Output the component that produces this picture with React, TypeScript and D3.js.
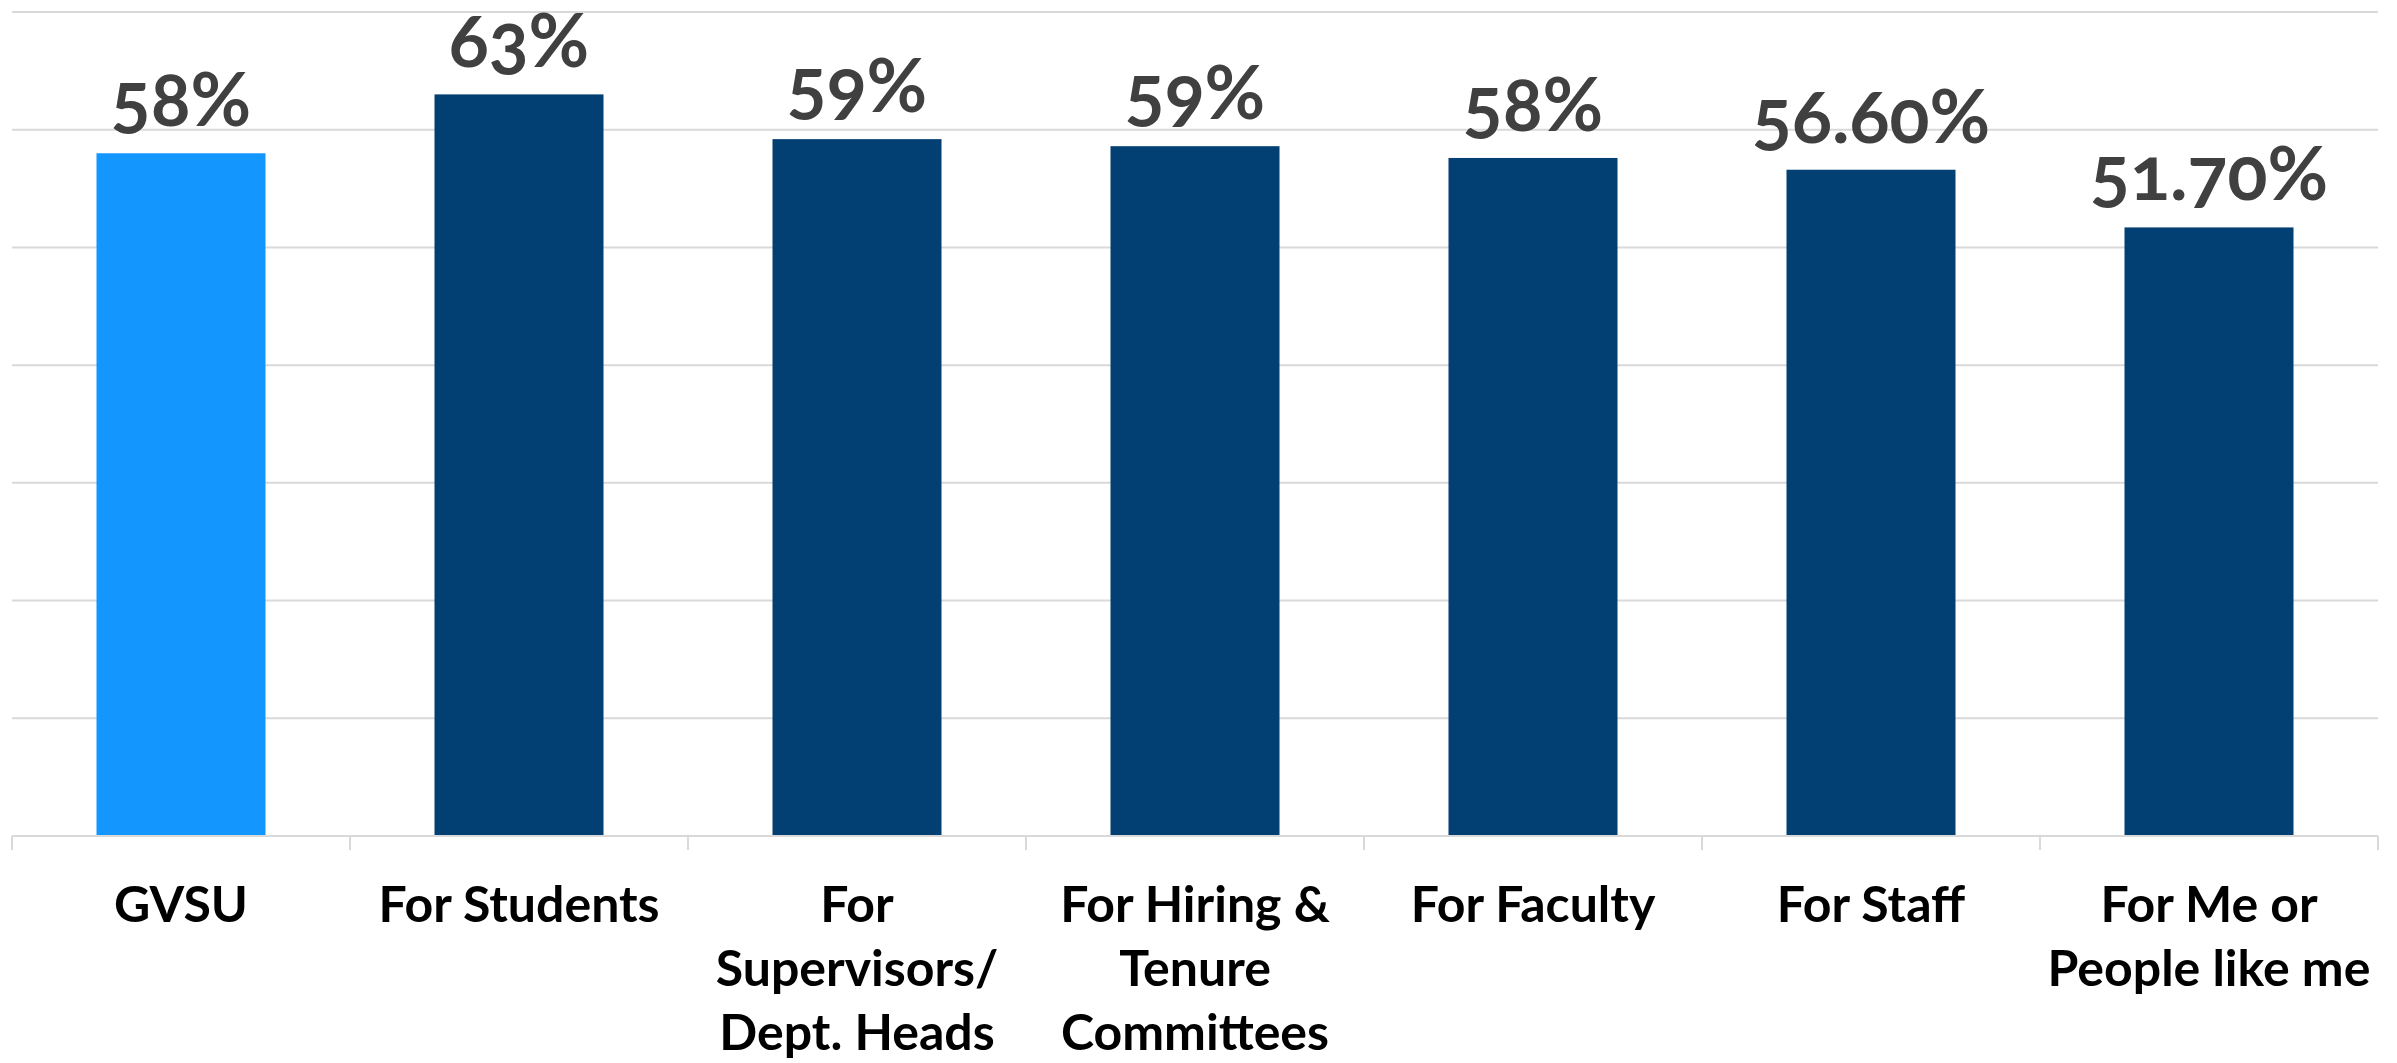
import React, { useEffect } from "react";
import * as d3 from "d3";

const categories: string[][] = [
  ["GVSU"],
  ["For Students"],
  ["For", "Supervisors/", "Dept. Heads"],
  ["For Hiring &", "Tenure", "Committees"],
  ["For Faculty"],
  ["For Staff"],
  ["For Me or", "People like me"],
];
const values: number[] = [58, 63, 59.2, 58.6, 57.6, 56.6, 51.7];
const valueLabels: string[] = ["58%", "63%", "59%", "59%", "58%", "56.60%", "51.70%"];
const gridTicks: number[] = [0, 10, 20, 30, 40, 50, 60, 70];

const W = 2397;
const H = 1063;
const left = 12;
const right = 2378;
const top = 12;
const bottom = 836;

export default function App() {
  useEffect(() => {
    document.body.style.margin = "0";
  }, []);

  const x = d3
    .scaleBand<number>()
    .domain(d3.range(categories.length))
    .range([left, right])
    .paddingInner(0.5)
    .paddingOuter(0.25);
  const y = d3.scaleLinear().domain([0, 70]).range([bottom, top]);
  const step = x.step();

  return (
    <svg width={W} height={H} style={{ display: "block" }}>
      <rect width={W} height={H} fill="#ffffff" />
      {gridTicks.slice(1).map((t) => (
        <line key={t} x1={left} x2={right} y1={y(t)} y2={y(t)} stroke="#D9D9D9" strokeWidth={2} />
      ))}
      {values.map((v, i) => (
        <rect
          key={i}
          x={x(i)}
          y={y(v)}
          width={x.bandwidth()}
          height={y(0) - y(v)}
          fill={i === 0 ? "#1496FF" : "#023F73"}
        />
      ))}
      <line x1={left} x2={right} y1={y(0)} y2={y(0)} stroke="#D9D9D9" strokeWidth={2} />
      {d3.range(categories.length + 1).map((i) => (
        <line
          key={i}
          x1={left + i * step}
          x2={left + i * step}
          y1={y(0)}
          y2={y(0) + 14}
          stroke="#D9D9D9"
          strokeWidth={2}
        />
      ))}
      {values.map((v, i) => (
        <text
          key={i}
          x={(x(i) as number) + x.bandwidth() / 2}
          y={y(v) - 27}
          textAnchor="middle"
          fontFamily="Lato, 'Open Sans', sans-serif"
          fontWeight={700}
          fontSize={74}
          fill="#404040"
          style={{ fontVariantNumeric: "oldstyle-nums" }}
        >
          {valueLabels[i]}
        </text>
      ))}
      {categories.map((lines, i) => (
        <text
          key={i}
          x={(x(i) as number) + x.bandwidth() / 2}
          y={922}
          textAnchor="middle"
          fontFamily="Lato, 'Open Sans', sans-serif"
          fontWeight={700}
          fontSize={50}
          fill="#000000"
        >
          {lines.map((l, j) => (
            <tspan key={j} x={(x(i) as number) + x.bandwidth() / 2} dy={j === 0 ? 0 : 64}>
              {l}
            </tspan>
          ))}
        </text>
      ))}
    </svg>
  );
}
